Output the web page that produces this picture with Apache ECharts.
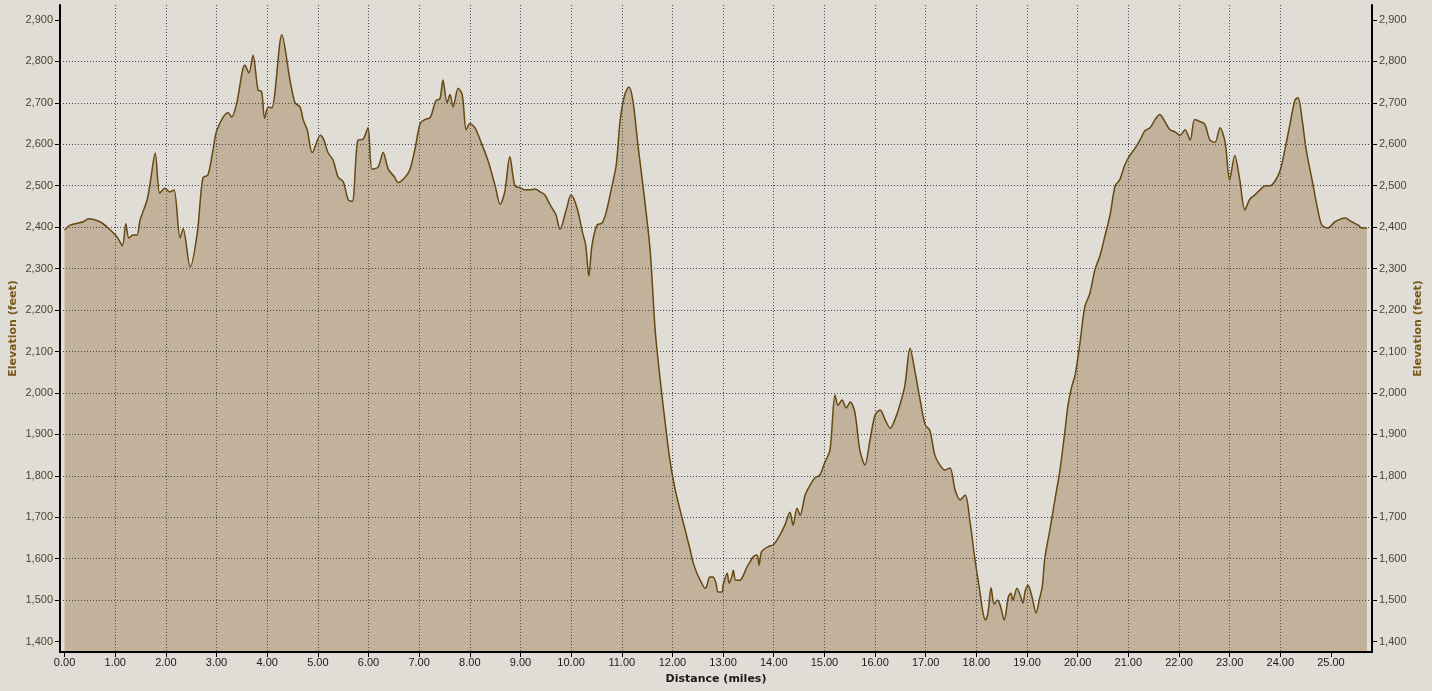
<!DOCTYPE html>
<html>
<head>
<meta charset="utf-8">
<script src="https://cdn.jsdelivr.net/npm/echarts@6/dist/echarts.min.js"></script>
<style>
html,body{margin:0;padding:0;background:#e0ddd6;}
#chart{width:1432px;height:691px;}
</style>
</head>
<body>
<div id="chart"></div>
<script>
// Distance (miles)
const miles = [
0.00,0.11,0.37,0.47,0.70,0.86,1.04,1.14,1.21,1.27,1.35,1.43,1.49,1.63,1.69,1.79,1.88,1.98,2.08,2.16,
2.28,2.34,2.48,2.62,2.73,2.83,2.93,3.01,3.23,3.30,3.40,3.56,3.64,3.72,3.82,3.89,3.95,4.02,4.09,4.29,
4.45,4.55,4.65,4.71,4.79,4.89,5.05,5.12,5.20,5.30,5.40,5.50,5.60,5.68,5.79,5.89,5.99,6.07,6.19,6.29,
6.39,6.52,6.58,6.72,6.82,6.92,7.02,7.12,7.22,7.33,7.41,7.47,7.55,7.61,7.67,7.77,7.85,7.93,8.00,8.10,
8.20,8.36,8.50,8.60,8.69,8.79,8.89,8.99,9.09,9.19,9.29,9.39,9.48,9.58,9.70,9.78,9.90,10.00,10.12,10.22,
10.29,10.35,10.41,10.51,10.61,10.69,10.79,10.89,10.97,11.06,11.14,11.22,11.32,11.44,11.56,11.66,11.76,11.85,11.95,12.05,
12.15,12.25,12.35,12.41,12.50,12.58,12.64,12.67,12.74,12.80,12.86,12.90,12.98,13.00,13.08,13.12,13.18,13.20,13.25,13.33,
13.40,13.47,13.53,13.59,13.67,13.71,13.75,13.79,13.90,13.99,14.12,14.22,14.32,14.38,14.46,14.52,14.62,14.72,14.81,14.91,
15.01,15.11,15.21,15.27,15.35,15.43,15.51,15.60,15.70,15.80,15.90,16.00,16.10,16.20,16.30,16.39,16.49,16.59,16.69,16.79,
16.89,16.99,17.08,17.18,17.28,17.38,17.48,17.58,17.68,17.78,17.87,17.97,18.07,18.13,18.18,18.23,18.29,18.35,18.41,18.47,
18.55,18.63,18.68,18.72,18.80,18.88,18.92,18.96,19.02,19.10,19.18,19.24,19.30,19.35,19.45,19.55,19.65,19.75,19.81,19.89,
19.95,20.05,20.14,20.24,20.34,20.44,20.54,20.64,20.74,20.83,20.93,21.03,21.13,21.23,21.33,21.43,21.53,21.62,21.72,21.82,
21.92,22.02,22.12,22.22,22.31,22.41,22.51,22.61,22.71,22.81,22.91,23.00,23.10,23.20,23.30,23.40,23.50,23.60,23.70,23.80,
23.90,24.00,24.09,24.19,24.29,24.35,24.43,24.51,24.63,24.74,24.82,24.94,25.08,25.28,25.41,25.54,25.61,25.71
];
// Elevation (feet)
const elevation = [
2393,2405,2413,2420,2413,2398,2376,2355,2408,2374,2381,2381,2417,2466,2507,2579,2482,2494,2485,2490,
2374,2396,2304,2386,2519,2526,2586,2635,2676,2666,2700,2791,2772,2815,2731,2727,2663,2690,2688,2864,
2755,2700,2690,2659,2635,2580,2622,2610,2580,2562,2521,2510,2466,2462,2610,2612,2640,2540,2545,2580,
2540,2520,2508,2520,2540,2590,2650,2660,2665,2705,2710,2755,2700,2720,2690,2735,2720,2635,2650,2640,
2612,2560,2500,2455,2485,2570,2500,2495,2490,2490,2492,2485,2478,2455,2430,2395,2440,2478,2445,2390,
2355,2282,2355,2405,2410,2435,2490,2550,2660,2720,2738,2705,2597,2478,2344,2150,2030,1935,1838,1770,
1718,1670,1621,1590,1560,1541,1529,1532,1556,1556,1541,1520,1520,1536,1565,1541,1560,1572,1548,1548,
1560,1580,1592,1604,1609,1585,1614,1621,1630,1633,1657,1681,1712,1681,1722,1705,1754,1778,1795,1802,
1833,1862,1995,1970,1983,1964,1978,1954,1862,1826,1886,1947,1959,1935,1915,1935,1971,2019,2108,2050,
1983,1923,1910,1850,1826,1814,1819,1766,1742,1754,1693,1600,1520,1470,1452,1470,1530,1490,1500,1488,
1452,1507,1517,1500,1529,1507,1493,1520,1536,1507,1469,1500,1532,1600,1669,1742,1814,1910,1971,2019,
2043,2125,2208,2240,2297,2331,2380,2430,2500,2514,2550,2573,2590,2610,2633,2640,2660,2672,2655,2635,
2630,2622,2635,2610,2660,2655,2648,2610,2605,2640,2605,2514,2573,2514,2442,2468,2478,2490,2500,2500,
2512,2538,2587,2648,2707,2712,2660,2587,2512,2442,2405,2398,2413,2422,2413,2405,2398,2398
];
// Tick labels
const xTicks = [0,1,2,3,4,5,6,7,8,9,10,11,12,13,14,15,16,17,18,19,20,21,22,23,24,25];
const yTicks = [1400,1500,1600,1700,1800,1900,2000,2100,2200,2300,2400,2500,2600,2700,2800,2900];

const points = miles.map((m, i) => [m, elevation[i]]);
const fmtY = v => v.toLocaleString('en-US');
const gridLine = { show: true, showMinLine: false, showMaxLine: false, lineStyle: { color: '#4a4a4a', type: [1, 2], width: 1 } };

function yAxisDef(pos) {
  return {
    type: 'value', position: pos, min: 1375, max: 2936, z: 5,
    name: 'Elevation (feet)', nameLocation: 'middle', nameGap: 41, nameMoveOverlap: false,
    nameRotate: 90,
    nameTextStyle: { color: '#7a5a1c', fontWeight: 'bold', fontSize: 11, fontFamily: 'DejaVu Sans' },
    axisLine: { show: true, onZero: false, lineStyle: { color: '#000', width: 2 } },
    axisTick: { show: true, length: 5, customValues: yTicks, lineStyle: { color: '#000' } },
    axisLabel: { customValues: yTicks, formatter: fmtY, color: '#4f4330', fontSize: 11, fontFamily: 'Liberation Sans', margin: 7 },
    splitLine: pos === 'left' ? gridLine : { show: false }
  };
}

const chart = echarts.init(document.getElementById('chart'), null, { renderer: 'canvas' });
chart.setOption({
  backgroundColor: '#e0ddd6',
  animation: false,
  grid: { left: 60, right: 60, top: 5, bottom: 39, containLabel: false, outerBoundsMode: 'none' },
  xAxis: {
    type: 'value', min: -0.09, max: 25.81, z: 5,
    name: 'Distance (miles)', nameLocation: 'middle', nameGap: 22, nameMoveOverlap: false,
    nameTextStyle: { color: '#1a1a1a', fontWeight: 'bold', fontSize: 11, fontFamily: 'DejaVu Sans' },
    axisLine: { show: true, onZero: false, lineStyle: { color: '#000', width: 2 } },
    axisTick: { show: true, length: 5, customValues: xTicks, lineStyle: { color: '#000' } },
    axisLabel: { customValues: xTicks, formatter: v => v.toFixed(2), color: '#1a1a1a', fontSize: 11, fontFamily: 'Liberation Sans', margin: 5 },
    splitLine: { show: true, showMinLine: false, showMaxLine: false, lineStyle: { color: '#4a4a4a', type: [1, 2], width: 1 } }
  },
  yAxis: [yAxisDef('left'), yAxisDef('right')],
  series: [{
    type: 'line', data: points, yAxisIndex: 0, showSymbol: false, smooth: 0.3,
    lineStyle: { color: '#654812', width: 1.5 },
    areaStyle: { color: '#c2b29c', opacity: 1, origin: 'start' },
    z: 2
  }]
});
</script>
</body>
</html>
